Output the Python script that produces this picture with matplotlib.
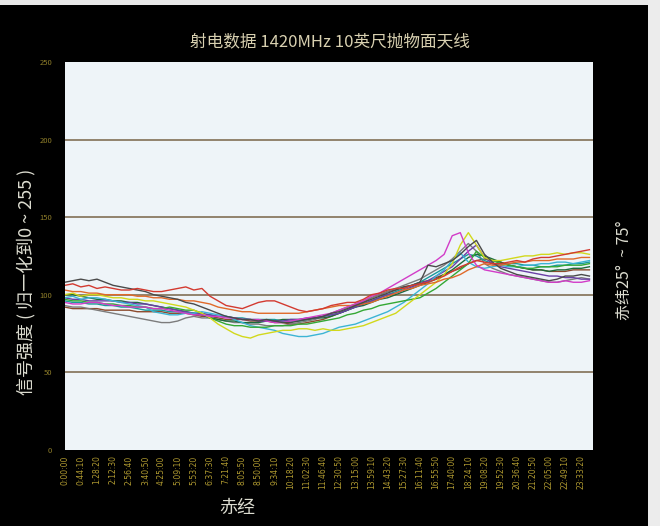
import numpy as np
import matplotlib
matplotlib.use('Agg')
import matplotlib.pyplot as plt
from matplotlib.patches import Rectangle

plt.rcParams['font.family'] = ['Noto Sans CJK SC', 'DejaVu Sans']

# --- data: one sample every half tick (tick = 44 min 10 s of RA) ---

tick_labels = ['0:00:00', '0:44:10', '1:28:20', '2:12:30', '2:56:40', '3:40:50',
               '4:25:00', '5:09:10', '5:53:20', '6:37:30', '7:21:40', '8:05:50',
               '8:50:00', '9:34:10', '10:18:20', '11:02:30', '11:46:40', '12:30:50',
               '13:15:00', '13:59:10', '14:43:20', '15:27:30', '16:11:40', '16:55:50',
               '17:40:00', '18:24:10', '19:08:20', '19:52:30', '20:36:40', '21:20:50',
               '22:05:00', '22:49:10', '23:33:20']

red = [106, 107, 105, 106, 104, 105, 104, 103, 103, 104, 103, 102, 102, 103, 104, 105,
       103, 104, 99, 96, 93, 92, 91, 93, 95, 96, 96, 94, 92, 90, 89, 90,
       91, 93, 94, 95, 95, 97, 100, 101, 103, 104, 104, 106, 107, 108, 110, 112,
       115, 118, 120, 122, 121, 120, 120, 121, 122, 121, 123, 124, 124, 125, 126, 127,
       128, 129]
darkgray = [108, 109, 110, 109, 110, 108, 106, 105, 104, 103, 102, 100, 99, 98, 97, 95,
            94, 92, 90, 88, 86, 85, 84, 84, 83, 84, 83, 82, 82, 83, 84, 85,
            86, 88, 89, 91, 93, 95, 97, 99, 101, 103, 105, 106, 108, 119, 118, 120,
            122, 126, 131, 135, 126, 121, 117, 115, 113, 112, 111, 110, 109, 110, 112, 112,
            113, 112]
gray = [93, 92, 92, 91, 90, 89, 88, 87, 86, 85, 84, 83, 82, 82, 83, 85,
        86, 85, 85, 84, 83, 82, 82, 81, 81, 80, 80, 80, 81, 82, 83, 84,
        86, 88, 90, 92, 94, 96, 98, 100, 102, 104, 106, 108, 110, 113, 116, 119,
        123, 128, 133, 128, 120, 117, 115, 113, 112, 111, 110, 109, 108, 108, 109, 110,
        111, 110]
yellow = [100, 101, 99, 100, 100, 99, 98, 98, 97, 97, 96, 96, 95, 94, 93, 92,
          90, 88, 85, 81, 78, 75, 73, 72, 74, 75, 76, 77, 77, 78, 78, 77,
          78, 77, 77, 78, 79, 80, 82, 84, 86, 88, 92, 96, 100, 104, 108, 113,
          120, 132, 140, 132, 124, 122, 122, 123, 124, 125, 125, 126, 126, 127, 126, 127,
          127, 126]
cyan = [98, 99, 97, 98, 98, 97, 96, 95, 94, 93, 92, 89, 88, 87, 87, 88,
        88, 89, 88, 87, 86, 84, 82, 80, 79, 78, 77, 75, 74, 73, 73, 74,
        75, 77, 79, 80, 81, 83, 85, 87, 89, 92, 95, 99, 103, 107, 112, 116,
        122, 127, 121, 118, 117, 118, 119, 118, 118, 119, 119, 120, 120, 121, 121, 120,
        121, 122]
teal = [96, 95, 95, 94, 94, 93, 93, 92, 92, 91, 90, 90, 90, 89, 89, 88,
        88, 87, 87, 86, 86, 85, 85, 84, 84, 84, 84, 83, 83, 83, 84, 85,
        86, 87, 88, 90, 92, 94, 96, 98, 100, 102, 104, 106, 108, 111, 114, 117,
        120, 123, 126, 125, 122, 120, 119, 120, 120, 119, 119, 118, 118, 119, 119, 120,
        120, 121]
green = [97, 96, 96, 95, 95, 94, 94, 93, 93, 92, 92, 91, 91, 92, 91, 90,
         90, 88, 85, 83, 81, 80, 80, 79, 79, 79, 80, 80, 80, 81, 81, 82,
         83, 84, 85, 87, 88, 90, 91, 93, 94, 95, 96, 97, 98, 101, 104, 108,
         112, 116, 120, 128, 124, 122, 120, 119, 118, 117, 117, 118, 118, 118, 119, 119,
         119, 120]
darkgreen = [100, 100, 99, 98, 97, 97, 96, 96, 95, 95, 94, 93, 92, 91, 90, 89,
             88, 87, 85, 84, 83, 83, 82, 82, 82, 83, 83, 84, 84, 84, 84, 85,
             85, 86, 88, 90, 92, 93, 95, 97, 98, 100, 102, 104, 106, 108, 110, 113,
             116, 120, 124, 126, 125, 123, 121, 119, 118, 117, 116, 116, 115, 116, 116, 117,
             117, 118]
magenta = [95, 94, 94, 95, 95, 94, 93, 93, 92, 92, 92, 91, 91, 90, 89, 88,
           87, 87, 86, 86, 85, 85, 84, 84, 84, 83, 82, 82, 83, 84, 85, 86,
           87, 88, 90, 92, 94, 96, 99, 101, 104, 107, 110, 113, 116, 119, 122, 126,
           138, 140, 127, 119, 116, 115, 114, 113, 112, 111, 110, 109, 108, 108, 109, 108,
           108, 109]
purple = [98, 97, 97, 96, 96, 96, 96, 95, 95, 94, 94, 93, 92, 91, 90, 89,
          88, 88, 87, 86, 86, 85, 84, 84, 83, 83, 83, 83, 84, 84, 85, 85,
          86, 87, 88, 90, 92, 94, 96, 98, 100, 101, 103, 105, 107, 109, 112, 115,
          118, 123, 128, 132, 124, 120, 118, 117, 116, 115, 114, 113, 112, 112, 111, 111,
          110, 110]
brown = [92, 91, 91, 91, 91, 90, 90, 90, 90, 89, 89, 89, 89, 88, 88, 88,
         87, 86, 86, 85, 84, 84, 84, 83, 83, 83, 82, 82, 81, 81, 82, 83,
         84, 86, 88, 90, 93, 95, 98, 100, 102, 103, 105, 106, 108, 109, 111, 113,
         115, 117, 120, 122, 123, 122, 121, 119, 118, 117, 116, 116, 115, 115, 115, 116,
         116, 116]
orange = [103, 102, 102, 101, 101, 100, 100, 100, 100, 99, 99, 98, 98, 97, 97, 96,
          96, 95, 94, 92, 91, 90, 89, 89, 88, 88, 88, 88, 88, 88, 89, 90,
          91, 92, 93, 93, 93, 94, 95, 97, 99, 101, 103, 104, 106, 107, 108, 110,
          111, 113, 116, 118, 120, 119, 119, 120, 121, 121, 122, 122, 122, 123, 123, 123,
          124, 124]

series = [(brown, '#8c4a2c'), (gray, '#7c7c7c'), (teal, '#1a9a9a'), (darkgreen, '#1d6b3c'),
          (purple, '#6a3fa6'), (cyan, '#3cb4d4'), (green, '#34a834'), (yellow, '#d2d81c'),
          (orange, '#e06a2a'), (magenta, '#d23cc8'), (darkgray, '#4a4a4a'), (red, '#d33a30')]

# --- figure ---

fig = plt.figure(figsize=(6.6, 5.26), dpi=100, facecolor='black')
# light scan border at top and right edge of the photo
fig.patches.append(Rectangle((0, 0.99), 1, 0.01, transform=fig.transFigure,
                             facecolor='#e8e8e8', edgecolor='none'))
fig.patches.append(Rectangle((0.982, 0), 0.018, 1, transform=fig.transFigure,
                             facecolor='#ececec', edgecolor='none'))

ax = fig.add_axes([0.098, 0.145, 0.800, 0.737])
ax.set_facecolor('#eef4f8')

for vals, col in series:
    x = np.arange(len(vals)) * 0.5
    ax.plot(x, vals, color=col, lw=1.0)

for yv in [50, 100, 150, 200]:
    ax.axhline(yv, color='#8a7a62', lw=1.3, zorder=0.5)

ax.set_ylim(0, 250)
ax.set_xlim(0, 32.7)
ax.set_yticks([0, 50, 100, 150, 200, 250])
ax.set_xticks(range(len(tick_labels)))
ax.set_xticklabels(tick_labels, rotation=90, fontsize=5.5, color='#b09a30',
                   family='DejaVu Sans')
ax.tick_params(axis='y', length=0, labelsize=5.5, labelcolor='#8f7e2a', pad=9)
ax.tick_params(axis='x', length=0, pad=4)
for s in ax.spines.values():
    s.set_visible(False)

fig.text(0.5, 0.92, '射电数据 1420MHz 10英尺抛物面天线', ha='center', va='center',
         fontsize=12, color='#d8d0b0')
fig.text(0.040, 0.464, '信号强度 ( 归一化到0 ~ 255 )', ha='center', va='center',
         rotation=90, fontsize=13, color='#dcdcd0')
fig.text(0.946, 0.487, '赤纬25°  ~ 75°', ha='center', va='center',
         rotation=90, fontsize=11.5, color='#dcdcd0')
fig.text(0.36, 0.034, '赤经', ha='center', va='center', fontsize=13, color='#dcdcd0')

fig.savefig('out.png', dpi=100, facecolor='black')
